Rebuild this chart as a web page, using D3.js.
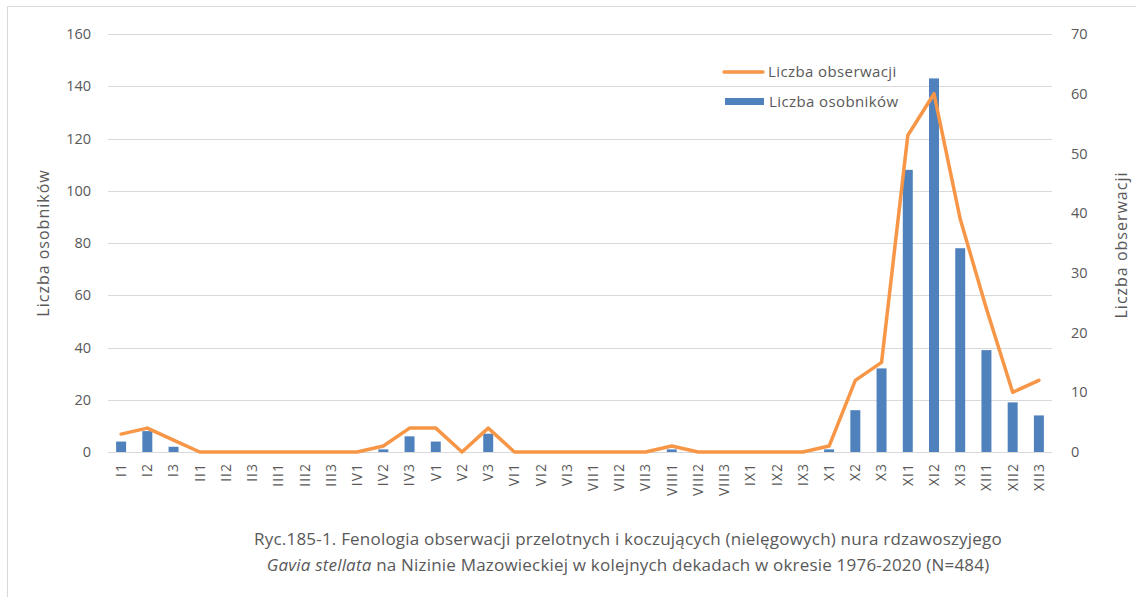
<!DOCTYPE html>
<html>
<head>
<meta charset="utf-8">
<script src="https://cdn.jsdelivr.net/npm/d3@7"></script>
<style>
  body { margin: 0; background: #fff; }
  svg { display: block; font-family: "Open Sans", "Noto Sans", sans-serif; }
</style>
</head>
<body>
<div id="chart"></div>
<script>
// decades (month roman numeral + decade number)
const decades = ["I1","I2","I3","II1","II2","II3","III1","III2","III3","IV1","IV2","IV3",
  "V1","V2","V3","VI1","VI2","VI3","VII1","VII2","VII3","VIII1","VIII2","VIII3",
  "IX1","IX2","IX3","X1","X2","X3","XI1","XI2","XI3","XII1","XII2","XII3"];

// Liczba osobników (bars, left axis)
const osobnikow = [4,8,2,0,0,0,0,0,0,0,1,6,
  4,0,7,0,0,0,0,0,0,1,0,0,
  0,0,0,1,16,32,108,143,78,39,19,14];

// Liczba obserwacji (line, right axis)
const obserwacji = [3,4,2,0,0,0,0,0,0,0,1,4,
  4,0,4,0,0,0,0,0,0,1,0,0,
  0,0,0,1,12,15,53,60,39,24,10,12];

const leftTicks = [0,20,40,60,80,100,120,140,160];
const rightTicks = [0,10,20,30,40,50,60,70];

const W = 1136, H = 597;
const plot = {left: 108, right: 1052, top: 34, bottom: 452};
const textColor = "#595959";
const gridColor = "#d9d9d9";
const blue = "#4f81bd";
const orange = "#f79646";

const svg = d3.select("#chart").append("svg")
  .attr("width", W).attr("height", H);

// chart area border (top + left visible)
svg.append("path")
  .attr("d", `M7.5,${H} V6.5 H${W}`)
  .attr("fill", "none")
  .attr("stroke", gridColor);

const x = d3.scaleBand().domain(decades).range([plot.left, plot.right]).paddingInner(0.62).paddingOuter(0.31);
const yL = d3.scaleLinear().domain([0, 160]).range([plot.bottom, plot.top]);
const yR = d3.scaleLinear().domain([0, 70]).range([plot.bottom, plot.top]);

// gridlines
svg.append("g")
  .selectAll("line")
  .data(leftTicks)
  .join("line")
    .attr("x1", plot.left).attr("x2", plot.right)
    .attr("y1", d => Math.round(yL(d)) + 0.5)
    .attr("y2", d => Math.round(yL(d)) + 0.5)
    .attr("stroke", gridColor)
    .attr("stroke-width", 1);

// left axis labels
svg.append("g")
  .attr("font-size", 14.5).attr("fill", textColor)
  .selectAll("text")
  .data(leftTicks)
  .join("text")
    .attr("x", 91)
    .attr("y", d => yL(d))
    .attr("dy", "0.35em")
    .attr("text-anchor", "end")
    .text(d => d);

// right axis labels
svg.append("g")
  .attr("font-size", 14.5).attr("fill", textColor)
  .selectAll("text")
  .data(rightTicks)
  .join("text")
    .attr("x", 1071)
    .attr("y", d => yR(d))
    .attr("dy", "0.35em")
    .attr("text-anchor", "start")
    .text(d => d);

// bars
svg.append("g")
  .selectAll("rect")
  .data(decades.map((d, i) => ({d, v: osobnikow[i]})))
  .join("rect")
    .attr("x", d => x(d.d))
    .attr("width", x.bandwidth())
    .attr("y", d => yL(d.v))
    .attr("height", d => yL(0) - yL(d.v))
    .attr("fill", blue);

// line
const line = d3.line()
  .x((d, i) => x(decades[i]) + x.bandwidth() / 2)
  .y(d => yR(d));

svg.append("path")
  .datum(obserwacji)
  .attr("d", line)
  .attr("fill", "none")
  .attr("stroke", orange)
  .attr("stroke-width", 3.5)
  .attr("stroke-linejoin", "round")
  .attr("stroke-linecap", "round");

// x labels (rotated)
svg.append("g")
  .attr("font-size", 14).attr("fill", textColor)
  .attr("letter-spacing", 1)
  .selectAll("text")
  .data(decades)
  .join("text")
    .attr("transform", d => `translate(${x(d) + x.bandwidth() / 2},463) rotate(-90)`)
    .attr("dy", "0.35em")
    .attr("text-anchor", "end")
    .text(d => d);

// axis titles
svg.append("text")
  .attr("transform", "translate(43,243) rotate(-90)")
  .attr("dy", "0.35em")
  .attr("text-anchor", "middle")
  .attr("font-size", 16).attr("letter-spacing", 1).attr("fill", textColor)
  .text("Liczba osobników");

svg.append("text")
  .attr("transform", "translate(1121,245) rotate(-90)")
  .attr("dy", "0.35em")
  .attr("text-anchor", "middle")
  .attr("font-size", 16).attr("letter-spacing", 1).attr("fill", textColor)
  .text("Liczba obserwacji");

// legend
const legend = svg.append("g").attr("font-size", 15).attr("letter-spacing", 0.4).attr("fill", textColor);
legend.append("line")
  .attr("x1", 724).attr("x2", 763).attr("y1", 72).attr("y2", 72)
  .attr("stroke", orange).attr("stroke-width", 3.5).attr("stroke-linecap", "round");
legend.append("text").attr("x", 768).attr("y", 72).attr("dy", "0.35em")
  .text("Liczba obserwacji");
legend.append("rect")
  .attr("x", 725).attr("y", 98).attr("width", 39).attr("height", 7)
  .attr("fill", blue);
legend.append("text").attr("x", 769).attr("y", 102).attr("dy", "0.35em")
  .text("Liczba osobników");

// caption
const caption = svg.append("g").attr("font-size", 17).attr("letter-spacing", 0.2)
  .attr("fill", textColor).attr("text-anchor", "middle")
  .style("white-space", "pre");
caption.append("text").attr("x", 628).attr("y", 545)
  .text("Ryc.185-1. Fenologia obserwacji przelotnych i koczujących (nielęgowych) nura rdzawoszyjego");
const l2 = caption.append("text").attr("x", 628).attr("y", 571);
l2.append("tspan").attr("font-style", "italic").text("Gavia stellata");
l2.append("tspan").text(" na Nizinie Mazowieckiej w kolejnych dekadach w okresie 1976-2020  (N=484)");
</script>
</body>
</html>
